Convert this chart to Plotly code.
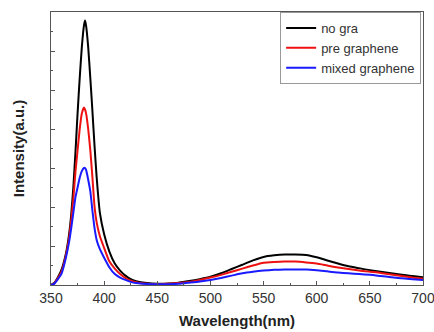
import plotly.graph_objects as go

wavelength = [350, 353, 356, 360, 364, 367, 369, 371, 373, 375, 377, 379, 381, 382, 383, 385,
              387, 389, 391, 393, 396, 400, 405, 410, 415, 420, 425, 430, 440, 450,
              460, 470, 480, 490, 500, 510, 520, 530, 540, 550, 560, 570, 580, 590, 600,
              610, 620, 630, 640, 650, 660, 670, 680, 690, 700]

no_gra = [0.0, 0.05, 0.17, 0.4, 0.8, 1.3, 1.8, 2.5, 3.4, 4.4, 5.3, 6.1, 6.65, 6.78, 6.65, 6.1,
          5.3, 4.45, 3.55, 2.75, 1.85, 1.3, 0.85, 0.55, 0.37, 0.24, 0.15, 0.1, 0.05, 0.03,
          0.04, 0.06, 0.1, 0.15, 0.21, 0.3, 0.41, 0.52, 0.63, 0.72, 0.76, 0.78, 0.78, 0.77, 0.71,
          0.63, 0.55, 0.48, 0.43, 0.38, 0.34, 0.3, 0.26, 0.23, 0.2]

pre_graphene = [0.0, 0.04, 0.15, 0.35, 0.75, 1.2, 1.65, 2.2, 2.9, 3.45, 4.0, 4.4, 4.55, 4.5, 4.4, 4.0,
                3.45, 2.75, 2.0, 1.6, 1.25, 0.95, 0.6, 0.42, 0.28, 0.18, 0.11, 0.07, 0.03, 0.02,
                0.03, 0.05, 0.08, 0.13, 0.19, 0.26, 0.34, 0.42, 0.5, 0.57, 0.59, 0.6, 0.6, 0.58, 0.55,
                0.5, 0.45, 0.41, 0.37, 0.34, 0.31, 0.27, 0.23, 0.19, 0.16]

mixed_graphene = [0.0, 0.03, 0.13, 0.3, 0.7, 1.1, 1.45, 1.85, 2.25, 2.5, 2.75, 2.92, 3.0, 3.0, 2.95, 2.7,
                  2.4, 1.9, 1.45, 1.15, 0.92, 0.7, 0.45, 0.28, 0.19, 0.13, 0.08, 0.05, 0.025, 0.02,
                  0.02, 0.03, 0.06, 0.09, 0.13, 0.18, 0.24, 0.3, 0.34, 0.37, 0.39, 0.4, 0.4, 0.4, 0.38,
                  0.35, 0.32, 0.3, 0.28, 0.26, 0.23, 0.2, 0.17, 0.15, 0.13]

series = [("no gra", no_gra, "#000000"),
          ("pre graphene", pre_graphene, "#ee1111"),
          ("mixed graphene", mixed_graphene, "#1a1aff")]

fig = go.Figure()
for name, ys, color in series:
    fig.add_trace(go.Scatter(x=wavelength, y=ys, mode="lines", name=name,
                             line=dict(color=color, width=2, shape="spline", smoothing=0.5)))

axis_color = "#555555"
font_family = "Arial, Liberation Sans, sans-serif"

fig.update_layout(
    width=434, height=332,
    margin=dict(l=51, r=11, t=12, b=47),
    paper_bgcolor="white", plot_bgcolor="white",
    font=dict(family=font_family, color="#333333"),
    showlegend=True,
    legend=dict(x=0.995, y=1, xanchor="right", yanchor="top",
                bordercolor="#999999", borderwidth=1, bgcolor="white",
                font=dict(size=13, color="#333333"),
                tracegroupgap=0, itemwidth=30),
    xaxis=dict(range=[350, 700], dtick=50, tick0=350, automargin=False,
               ticks="inside", ticklen=4, tickcolor=axis_color,
               showline=True, linecolor=axis_color, linewidth=1, mirror=True,
               showgrid=False, zeroline=False, ticklabeloverflow="allow",
               tickfont=dict(size=14, color="#333333"),
               minor=dict(ticks="inside", dtick=25, ticklen=2, tickcolor=axis_color),
               title=dict(text="<b>Wavelength(nm)</b>", font=dict(size=15, color="#222222"), standoff=10)),
    yaxis=dict(range=[0, 7], dtick=1, tick0=0, automargin=False,
               ticks="inside", ticklen=4, tickcolor=axis_color,
               showline=True, linecolor=axis_color, linewidth=1, mirror=True,
               showgrid=False, zeroline=False, showticklabels=False,
               minor=dict(ticks="inside", dtick=0.5, ticklen=2, tickcolor=axis_color),
               title=dict(text="<b>Intensity(a.u.)</b>", font=dict(size=15, color="#222222"), standoff=21)),
)

fig.write_html("out.html", config={"displayModeBar": False},
               post_script="document.body.style.margin='0';document.body.style.overflow='hidden';")
